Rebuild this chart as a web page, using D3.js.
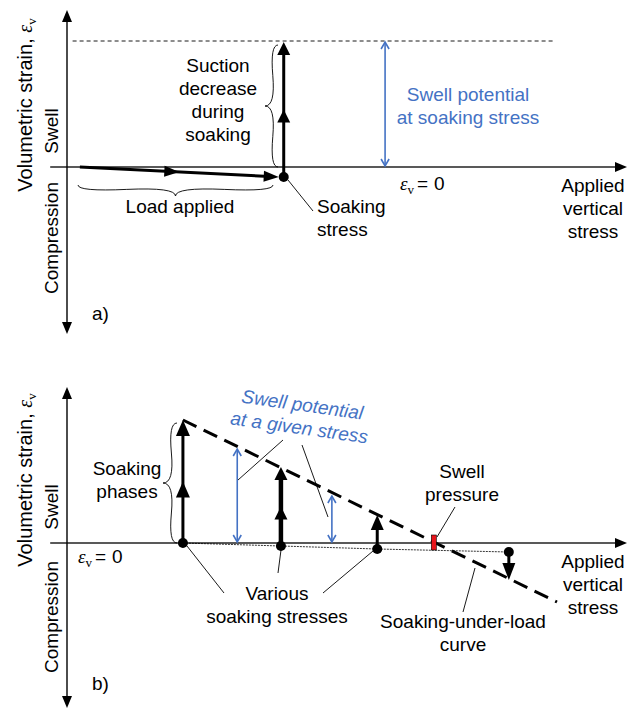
<!DOCTYPE html>
<html>
<head>
<meta charset='utf-8'>
<title>Swell potential schematic</title>
<style>
body{margin:0;background:#fff;}
svg text{font-family:'Liberation Sans', Arial, sans-serif;font-size:19px;fill:#000;}
</style>
</head>
<body>
<div id='chart'></div>
<script src='https://d3js.org/d3.v7.min.js'></script>
<script>

// schematic values: stress in arbitrary units (0-100), strain in arbitrary units (+ = swell)
// panel a) single soaking test
var loadApplied = [[2.3, 0], [38.7, -1.0]];
var soakingA = [[38.7, -1.0], [38.7, 12.6]];
var maxSwellA = 12.6;
var swellPotentialStressA = 56.8;

// panel b) soaking under various loads
var soakStress = [20.7, 38.2, 55.4, 78.9];
var strainAfterLoad = [0, -0.3, -0.6, -0.9];
var strainAfterSoak = [12.3, 7.6, 2.8, -3.7];
var curveB = [[20.7, 12.3], [87.5, -5.9]];
var swellPressure = 65.5;
var potentialStress = [30.4, 47.3];
var potentialStrain = [9.5, 4.8];

var blue = '#4472C4';

var svg = d3.select('#chart').append('svg')
  .attr('width', 628).attr('height', 711);

var x = d3.scaleLinear().domain([0, 100]).range([67, 627]);
var yA = d3.scaleLinear().domain([0, 10]).range([167, 67]);
var yB = d3.scaleLinear().domain([0, 10]).range([543, 443]);

// filled arrow head with its tip at (tx,ty), pointing along angle
function head(g, tx, ty, ang, len, wid, col) {
  var c = Math.cos(ang), s = Math.sin(ang);
  var bx = tx - len * c, by = ty - len * s;
  var pts = [[tx, ty], [bx - wid / 2 * s, by + wid / 2 * c], [bx + wid / 2 * s, by - wid / 2 * c]];
  g.append('path').attr('d', 'M' + pts.join('L') + 'Z').attr('fill', col || '#000');
}

// line with a head at the end and optionally one half way
function arrow(g, p0, p1, o) {
  var ang = Math.atan2(p1[1] - p0[1], p1[0] - p0[0]);
  var c = Math.cos(ang), s = Math.sin(ang);
  g.append('line')
    .attr('x1', p0[0]).attr('y1', p0[1])
    .attr('x2', p1[0] - o.len * 0.6 * c).attr('y2', p1[1] - o.len * 0.6 * s)
    .attr('stroke', o.col || '#000').attr('stroke-width', o.w);
  head(g, p1[0], p1[1], ang, o.len, o.wid, o.col);
  if (o.mid) {
    head(g, p0[0] + (p1[0] - p0[0]) * o.mid, p0[1] + (p1[1] - p0[1]) * o.mid, ang, o.len, o.wid, o.col);
  }
}

// thin blue double headed arrow with open heads
function dblArrow(g, xp, y0, y1) {
  g.append('line').attr('x1', xp).attr('x2', xp).attr('y1', y0 + 1).attr('y2', y1 - 1)
    .attr('stroke', blue).attr('stroke-width', 1.6);
  [[y0, 1], [y1, -1]].forEach(function (d) {
    g.append('path')
      .attr('d', 'M' + (xp - 4) + ',' + (d[0] + 7 * d[1]) + 'L' + xp + ',' + d[0] + 'L' + (xp + 4) + ',' + (d[0] + 7 * d[1]))
      .attr('fill', 'none').attr('stroke', blue).attr('stroke-width', 1.6);
  });
}

function brace(x1, y1, x2, y2, w, q) {
  var dx = x1 - x2, dy = y1 - y2, len = Math.sqrt(dx * dx + dy * dy);
  dx = dx / len; dy = dy / len;
  var qx1 = x1 + q * w * dy, qy1 = y1 - q * w * dx;
  var qx2 = (x1 - .25 * len * dx) + (1 - q) * w * dy, qy2 = (y1 - .25 * len * dy) - (1 - q) * w * dx;
  var tx1 = (x1 - .5 * len * dx) + w * dy, ty1 = (y1 - .5 * len * dy) - w * dx;
  var qx3 = x2 + q * w * dy, qy3 = y2 - q * w * dx;
  var qx4 = (x1 - .75 * len * dx) + (1 - q) * w * dy, qy4 = (y1 - .75 * len * dy) - (1 - q) * w * dx;
  return 'M' + x1 + ' ' + y1 + 'Q' + qx1 + ' ' + qy1 + ' ' + qx2 + ' ' + qy2 + 'T' + tx1 + ' ' + ty1 +
    'M' + x2 + ' ' + y2 + 'Q' + qx3 + ' ' + qy3 + ' ' + qx4 + ' ' + qy4 + 'T' + tx1 + ' ' + ty1;
}

function leader(g, x1, y1, x2, y2) {
  g.append('line').attr('x1', x1).attr('y1', y1).attr('x2', x2).attr('y2', y2)
    .attr('stroke', '#000').attr('stroke-width', 0.9);
}

function label(g, lines, xp, y0, anchor, col) {
  var t = g.append('text').attr('text-anchor', anchor || 'middle');
  if (col) t.style('fill', col);
  lines.forEach(function (l, i) {
    t.append('tspan').attr('x', xp).attr('y', y0 + i * 23).text(l);
  });
  return t;
}

function epsZero(g, xp, yp) {
  var t = g.append('text').attr('x', xp).attr('y', yp);
  t.append('tspan').style('font-family', "'Liberation Serif', serif").style('font-style', 'italic').text('\u03b5');
  t.append('tspan').style('font-family', "'Liberation Serif', serif").style('font-size', '13px').attr('dy', 4).text('v');
  t.append('tspan').attr('dy', -4).attr('dx', 3).text('=');
  t.append('tspan').attr('dx', 6).text('0');
}

function axes(g, y, top, bottom, tag, labelY, swellY, compY) {
  g.append('line').attr('x1', x(-3)).attr('x2', x(100) - 6).attr('y1', y(0)).attr('y2', y(0))
    .attr('stroke', '#222').attr('stroke-width', 1.4);
  head(g, x(100), y(0), 0, 12, 10);
  g.append('line').attr('x1', x(0)).attr('x2', x(0)).attr('y1', y(top) + 6).attr('y2', y(bottom) - 6)
    .attr('stroke', '#000').attr('stroke-width', 1.4);
  head(g, x(0), y(top), -Math.PI / 2, 12, 10);
  head(g, x(0), y(bottom), Math.PI / 2, 12, 10);

  var yl = g.append('text').attr('text-anchor', 'middle')
    .attr('transform', 'translate(32,' + labelY + ') rotate(-90)')
    .style('font-size', '20px');
  yl.append('tspan').text('Volumetric strain, ');
  yl.append('tspan').style('font-family', "'Liberation Serif', serif").style('font-style', 'italic').text('\u03b5');
  yl.append('tspan').style('font-family', "'Liberation Serif', serif").style('font-size', '13px').attr('dy', 4).text('v');

  g.append('text').attr('text-anchor', 'middle')
    .attr('transform', 'translate(58,' + swellY + ') rotate(-90)').text('Swell');
  g.append('text').attr('text-anchor', 'middle')
    .attr('transform', 'translate(58,' + compY + ') rotate(-90)').text('Compression');
  g.append('text').attr('x', 92).attr('y', labelY > 300 ? 690 : 320).text(tag);

  label(g, ['Applied', 'vertical', 'stress'], 593, y(0) + 25);
}

// ---- panel a
var ga = svg.append('g');
axes(ga, yA, 15.7, -16.7, 'a)', 105, 131, 238);

ga.append('line')
  .attr('x1', x(1)).attr('x2', x(87)).attr('y1', yA(maxSwellA)).attr('y2', yA(maxSwellA))
  .attr('stroke', '#000').attr('stroke-width', 0.9).attr('stroke-dasharray', '4,3');

arrow(ga, [x(loadApplied[0][0]), yA(loadApplied[0][1])], [x(loadApplied[1][0]) - 5, yA(loadApplied[1][1])],
  { w: 3, len: 15, wid: 11, mid: 0.5 });
arrow(ga, [x(soakingA[0][0]), yA(soakingA[0][1])], [x(soakingA[1][0]), yA(soakingA[1][1]) + 1],
  { w: 3, len: 13, wid: 13, mid: 0.5 });
ga.append('circle').attr('cx', x(soakingA[0][0])).attr('cy', yA(soakingA[0][1])).attr('r', 5);

dblArrow(ga, x(swellPotentialStressA), yA(maxSwellA) + 1, yA(0) - 1);

ga.append('path').attr('d', brace(278, 45, 278, 167, 13, 0.6))
  .attr('fill', 'none').attr('stroke', '#000').attr('stroke-width', 0.9);
ga.append('path').attr('d', brace(78, 185, 273, 185, 11, 0.6))
  .attr('fill', 'none').attr('stroke', '#000').attr('stroke-width', 0.9);

label(ga, ['Suction', 'decrease', 'during', 'soaking'], 218, 72);
label(ga, ['Load applied'], 180, 213);
leader(ga, 288, 180, 313, 211);
label(ga, ['Soaking', 'stress'], 317, 213, 'start');
label(ga, ['Swell potential', 'at soaking stress'], 468, 101, 'middle', blue);
epsZero(ga, 400, 190);

// ---- panel b
var gb = svg.append('g');
axes(gb, yB, 15.6, -16.5, 'b)', 480, 507, 617);

gb.append('path')
  .attr('d', d3.line()(soakStress.map(function (s, i) { return [x(s), yB(strainAfterLoad[i])]; })))
  .attr('fill', 'none').attr('stroke', '#000').attr('stroke-width', 0.8).attr('stroke-dasharray', '2,1');

gb.append('path')
  .attr('d', d3.line()(curveB.map(function (d) { return [x(d[0]), yB(d[1])]; })))
  .attr('fill', 'none').attr('stroke', '#000').attr('stroke-width', 3).attr('stroke-dasharray', '15,8');

var arrowStyle = [
  { w: 3, len: 16, wid: 14, mid: 0.5 },
  { w: 4.5, len: 13, wid: 13, mid: 0.5 },
  { w: 3, len: 15, wid: 13 },
  { w: 3, len: 17, wid: 13 }
];
soakStress.forEach(function (s, i) {
  arrow(gb, [x(s), yB(strainAfterLoad[i])], [x(s), yB(strainAfterSoak[i])], arrowStyle[i]);
  gb.append('circle').attr('cx', x(s)).attr('cy', yB(strainAfterLoad[i])).attr('r', 5);
});

potentialStress.forEach(function (s, i) {
  dblArrow(gb, x(s), yB(potentialStrain[i]) + 1, yB(0) - 1);
});

gb.append('rect')
  .attr('x', x(swellPressure) - 2.5).attr('y', yB(0) - 8).attr('width', 5).attr('height', 15)
  .attr('fill', '#e8141b').attr('stroke', '#000').attr('stroke-width', 0.6);

gb.append('path').attr('d', brace(177, 423, 177, 543, 14, 0.6))
  .attr('fill', 'none').attr('stroke', '#000').attr('stroke-width', 0.9);

label(gb, ['Soaking', 'phases'], 127, 475);
label(gb, ['Swell', 'pressure'], 462, 478);
leader(gb, 455, 507, 437, 537);
label(gb, ['Various', 'soaking stresses'], 277, 600);
leader(gb, 187, 546, 224, 593);
leader(gb, 281, 550, 278, 573);
leader(gb, 373, 551, 323, 593);
label(gb, ['Soaking-under-load', 'curve'], 463, 628);
leader(gb, 463, 612, 475, 568);
leader(gb, 238, 480, 283, 440);
leader(gb, 302, 445, 328, 517);

var bt = label(gb, ['Swell potential', 'at a given stress'], 300, 411, 'middle', blue)
  .attr('transform', 'rotate(8,300,422)')
  .style('font-style', 'italic');
bt.select('tspan:nth-child(2)').attr('y', 434);

epsZero(gb, 78, 563);

</script>
</body>
</html>
